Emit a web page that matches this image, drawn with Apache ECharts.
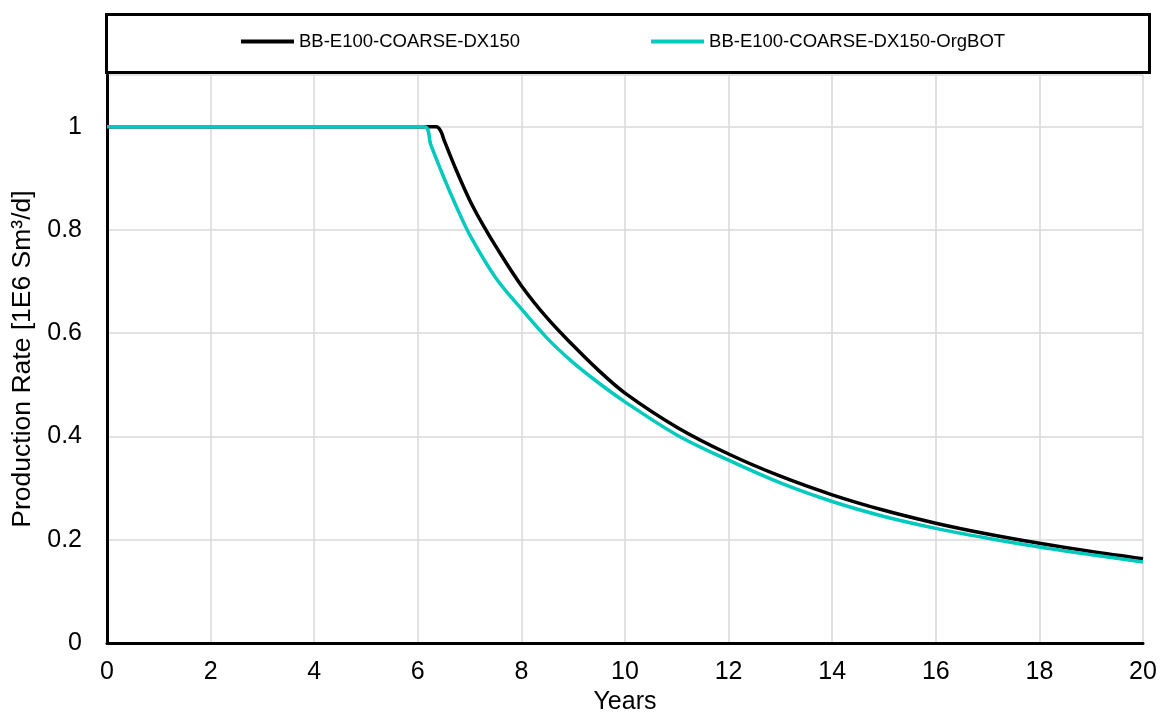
<!DOCTYPE html>
<html>
<head>
<meta charset="utf-8">
<script src="https://cdn.jsdelivr.net/npm/echarts@6/dist/echarts.min.js"></script>
<style>html,body{margin:0;padding:0;background:#fff}#c{width:1161px;height:713px}</style>
</head>
<body>
<div id="c"></div>
<script>
const seriesNames = ['BB-E100-COARSE-DX150', 'BB-E100-COARSE-DX150-OrgBOT'];
const blackYears = [0, 6.1, 6.36, 6.45, 6.5, 6.75, 7.0, 7.25, 7.5, 8.0, 8.5, 9.0, 9.5, 10, 11, 12, 13, 14, 15, 16, 17, 18, 19, 20];
const blackRates = [1.0, 1.0, 1.0, 0.99, 0.976, 0.914, 0.858, 0.811, 0.769, 0.692, 0.629, 0.576, 0.527, 0.484, 0.418, 0.366, 0.323, 0.287, 0.257, 0.232, 0.211, 0.193, 0.177, 0.163];
const cyanYears = [0, 6.12, 6.25, 6.5, 6.75, 7.0, 7.5, 8.0, 8.5, 9.0, 9.5, 10, 11, 12, 13, 14, 15, 16, 17, 18, 19, 20];
const cyanRates = [1.0, 1.0, 0.965, 0.902, 0.844, 0.791, 0.708, 0.647, 0.590, 0.543, 0.503, 0.467, 0.403, 0.354, 0.310, 0.274, 0.245, 0.222, 0.203, 0.186, 0.171, 0.157];
const xTicks = {min: 0, max: 20, interval: 2};
const yTicks = {min: 0, max: 1.1, interval: 0.2};

const pair = (xs, ys) => xs.map((x, i) => [x, ys[i]]);
const font = 'Liberation Sans, Arial, sans-serif';
const chart = echarts.init(document.getElementById('c'));
chart.setOption({
  animation: false,
  backgroundColor: '#fff',
  graphic: [{
    type: 'rect', left: 104, top: 12, z: 100,
    shape: {width: 1043, height: 58},
    style: {fill: 'none', stroke: '#000', lineWidth: 3}
  }],
  legend: {
    left: 241, top: 32, padding: 0, icon: 'rect', itemWidth: 53, itemHeight: 4, itemGap: 131,
    textStyle: {fontFamily: font, fontSize: 18.5, color: '#000'},
    data: seriesNames
  },
  grid: {left: 107, right: 18, top: 75, bottom: 70, outerBoundsMode: 'none', containLabel: false},
  xAxis: [{
    type: 'value', min: xTicks.min, max: xTicks.max, interval: xTicks.interval,
    name: 'Years', nameLocation: 'middle', nameGap: 44,
    nameTextStyle: {fontFamily: font, fontSize: 25, color: '#000'},
    axisLine: {show: true, onZero: false, lineStyle: {color: '#7f7f7f', width: 2}},
    axisTick: {show: false},
    axisLabel: {fontFamily: font, fontSize: 25, color: '#000', margin: 17},
    splitLine: {show: true, lineStyle: {color: '#d9d9d9', width: 1.5}}
  }, {
    type: 'value', position: 'top', min: xTicks.min, max: xTicks.max,
    axisLine: {show: true, lineStyle: {color: '#000', width: 3}},
    axisTick: {show: false}, axisLabel: {show: false}, splitLine: {show: false}
  }],
  yAxis: [{
    type: 'value', min: yTicks.min, max: yTicks.max, interval: yTicks.interval,
    name: 'Production Rate [1E6 Sm³/d]', nameLocation: 'middle', nameGap: 70,
    nameTextStyle: {fontFamily: font, fontSize: 26.5, color: '#000'},
    axisLine: {show: true, onZero: false, lineStyle: {color: '#7f7f7f', width: 2}},
    axisTick: {show: false},
    axisLabel: {fontFamily: font, fontSize: 25, color: '#000', margin: 25, showMaxLabel: false,
      formatter: v => (v > 1.05 ? '' : String(Math.round(v * 10) / 10))},
    splitLine: {show: true, lineStyle: {color: '#d9d9d9', width: 1.5}}
  }, {
    type: 'value', position: 'right', min: yTicks.min, max: yTicks.max,
    axisLine: {show: true, lineStyle: {color: '#000', width: 3}},
    axisTick: {show: false}, axisLabel: {show: false}, splitLine: {show: false}
  }],
  series: [{
    name: seriesNames[0], type: 'line', data: pair(blackYears, blackRates),
    showSymbol: false, smooth: 0.35, color: '#000',
    lineStyle: {color: '#000', width: 3.5}
  }, {
    name: seriesNames[1], type: 'line', data: pair(cyanYears, cyanRates),
    showSymbol: false, smooth: 0.35, color: '#00c9bd',
    lineStyle: {color: '#00c9bd', width: 3.5}
  }]
});
</script>
</body>
</html>
